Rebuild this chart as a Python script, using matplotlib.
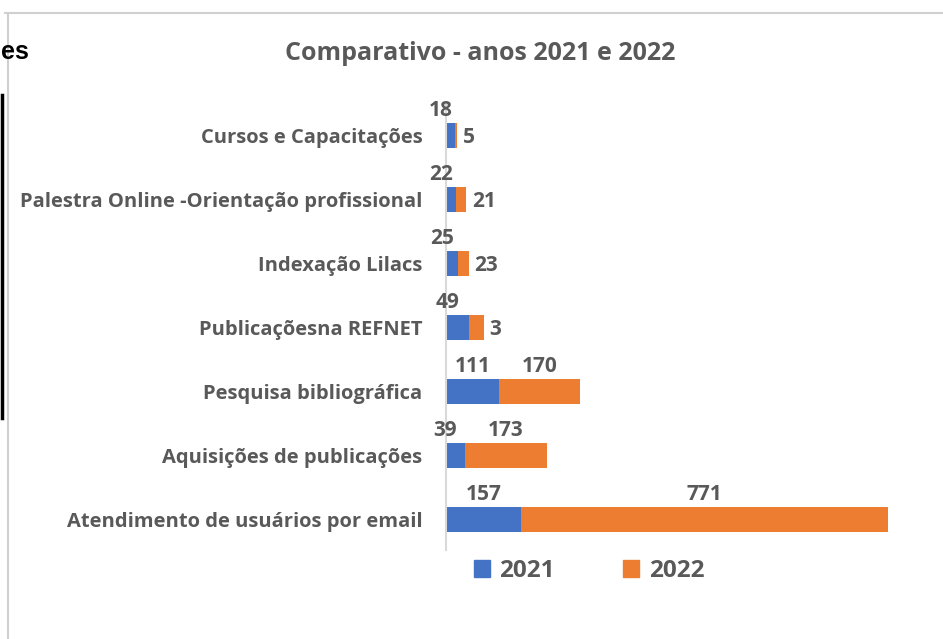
import matplotlib.pyplot as plt
from matplotlib.lines import Line2D
from matplotlib.patches import Patch

categories = [
    "Cursos e Capacitações",
    "Palestra Online -Orientação profissional",
    "Indexação Lilacs",
    "Publicaçõesna REFNET",
    "Pesquisa bibliográfica",
    "Aquisições de publicações",
    "Atendimento de usuários por email",
]
values_2021 = [18, 22, 25, 49, 111, 39, 157]
# bar lengths as drawn; the REFNET bar is drawn ~30 but labelled "3"
values_2022 = [5, 21, 23, 30, 170, 173, 771]
labels_2021 = ["18", "22", "25", "49", "111", "39", "157"]
labels_2022 = ["5", "21", "23", "3", "170", "173", "771"]
series_names = ["2021", "2022"]

BLUE = "#4472C4"
ORANGE = "#ED7D31"
TXT = "#595959"
FONT = "Open Sans"

W, H = 943, 639
fig = plt.figure(figsize=(W / 100, H / 100), dpi=100)


def fx(px):
    return px / W


def fy(py):
    return 1 - py / H


ax = fig.add_axes([fx(446), fy(550), fx(476), fy(105) - fy(550)])
ypos = list(range(len(categories)))
ax.barh(ypos, values_2021, height=0.39, color=BLUE)
ax.barh(ypos, values_2022, left=values_2021, height=0.39, color=ORANGE)
ax.set_xlim(0, 1000)
ax.set_ylim(6.47, -0.48)
ax.set_yticks(ypos)
ax.set_yticklabels(categories, fontsize=14.5, fontweight="bold", color=TXT, family=FONT)
ax.tick_params(axis="y", length=0, pad=17)
ax.set_xticks([])
for s in ["top", "right", "bottom"]:
    ax.spines[s].set_visible(False)
ax.spines["left"].set_color("#D9D9D9")
ax.spines["left"].set_linewidth(1.5)

lab_kw = dict(fontsize=15, fontweight="bold", color=TXT, family=FONT,
              textcoords="offset points", va="center")
for i, (a, b) in enumerate(zip(values_2021, values_2022)):
    # 2021 label above its segment
    dx = -7 if a < 60 else 0
    ax.annotate(labels_2021[i], (a / 2, i), xytext=(dx, 18), ha="center", **lab_kw)
    # 2022 label: above for long segments, to the right for short ones
    if b >= 60:
        ax.annotate(labels_2022[i], (a + b / 2, i), xytext=(0, 18), ha="center", **lab_kw)
    else:
        ax.annotate(labels_2022[i], (a + b, i), xytext=(4, -1), ha="left", **lab_kw)

fig.text(fx(480), fy(54), "Comparativo - anos 2021 e 2022", ha="center", va="center",
         fontsize=18, fontweight="bold", color=TXT, family=FONT)

handles = [Patch(color=BLUE), Patch(color=ORANGE)]
fig.legend(handles, series_names, loc="center", bbox_to_anchor=(fx(589), fy(571)),
           ncol=2, frameon=False, prop=dict(family=FONT, weight="bold", size=17.5),
           labelcolor=TXT, handlelength=0.65, handleheight=0.65,
           handletextpad=0.4, columnspacing=2.8)

# surrounding page fragments
fig.add_artist(Line2D([fx(5), 1], [fy(12.5), fy(12.5)], color="#D0D0D0", lw=1.5))
fig.add_artist(Line2D([fx(8), fx(8)], [fy(12.5), 0], color="#D0D0D0", lw=1.5))
fig.add_artist(Line2D([fx(1.5), fx(1.5)], [fy(95), fy(418)], color="black", lw=2.5))
fig.text(fx(1), fy(52), "es", ha="left", va="center", fontsize=18,
         fontweight="bold", color="black", family="Liberation Sans")

fig.savefig("out.png", dpi=100)
